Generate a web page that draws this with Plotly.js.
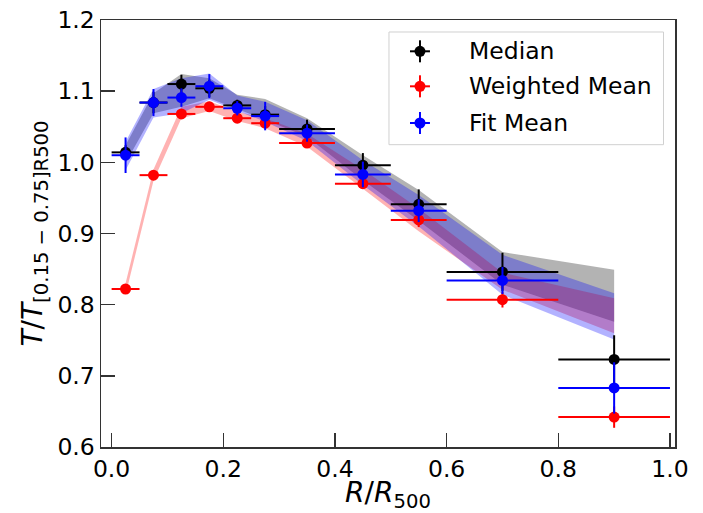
<!DOCTYPE html>
<html>
<head>
<meta charset="utf-8">
<script src="https://cdn.plot.ly/plotly-3.0.1.min.js"></script>
<style>html,body{margin:0;padding:0;background:#fff;}</style>
</head>
<body>
<div id="chart" style="width:703px;height:513px;"></div>
<script>
// Bin centres and half-widths (R/R500)
const xBins = [0.025, 0.075, 0.125, 0.175, 0.225, 0.275, 0.35, 0.45, 0.55, 0.7, 0.9];
const xHalf = [0.025, 0.025, 0.025, 0.025, 0.025, 0.025, 0.05, 0.05, 0.05, 0.1, 0.1];

// Median
const medianY   = [1.014, 1.084, 1.110, 1.104, 1.080, 1.067, 1.047, 0.996, 0.941, 0.846, 0.723];
const medianErr = [0.010, 0.015, 0.013, 0.012, 0.008, 0.012, 0.013, 0.017, 0.021, 0.027, 0.034];
// Weighted mean
const wmeanY    = [0.822, 0.982, 1.068, 1.078, 1.062, 1.055, 1.027, 0.970, 0.919, 0.807, 0.642];
const wmeanErr  = [0.004, 0.005, 0.005, 0.005, 0.005, 0.006, 0.006, 0.007, 0.010, 0.011, 0.015];
// Fit mean
const fitY      = [1.010, 1.084, 1.091, 1.107, 1.076, 1.065, 1.041, 0.983, 0.932, 0.834, 0.683];
const fitErr    = [0.025, 0.019, 0.013, 0.017, 0.010, 0.020, 0.012, 0.018, 0.016, 0.019, 0.036];

// Shaded bands (lower / upper)
const medianLo = [0.999, 1.069, 1.078, 1.090, 1.075, 1.060, 1.036, 0.975, 0.918, 0.828, 0.776];
const medianHi = [1.024, 1.097, 1.124, 1.118, 1.095, 1.089, 1.062, 1.010, 0.961, 0.874, 0.849];
const wmeanLo  = [0.814, 0.974, 1.062, 1.072, 1.058, 1.048, 1.022, 0.963, 0.903, 0.821, 0.760];
const wmeanHi  = [0.830, 0.990, 1.078, 1.086, 1.071, 1.062, 1.040, 0.990, 0.935, 0.845, 0.809];
const fitLo    = [0.989, 1.063, 1.069, 1.088, 1.072, 1.057, 1.030, 0.968, 0.910, 0.814, 0.751];
const fitHi    = [1.029, 1.103, 1.118, 1.125, 1.094, 1.085, 1.059, 1.003, 0.954, 0.870, 0.816];

const xTicks = [0.0, 0.2, 0.4, 0.6, 0.8, 1.0];
const yTicks = [0.6, 0.7, 0.8, 0.9, 1.0, 1.1, 1.2];

const names  = ['Median', 'Weighted Mean', 'Fit Mean'];
const colors = ['#000000', '#ff0000', '#0000ff'];

function band(lo, hi, fill) {
  return {
    x: xBins.concat(xBins.slice().reverse()),
    y: hi.concat(lo.slice().reverse()),
    type: 'scatter', mode: 'lines', fill: 'toself',
    fillcolor: fill, line: {width: 0}, hoverinfo: 'skip', showlegend: false
  };
}
function pts(y, err, color, name) {
  return {
    x: xBins, y: y, name: name, type: 'scatter', mode: 'markers',
    marker: {color: color, size: 11, line: {width: 0}},
    error_x: {type: 'data', array: xHalf, visible: true, color: color, thickness: 2, width: 0},
    error_y: {type: 'data', array: err, visible: true, color: color, thickness: 2, width: 0},
    showlegend: false
  };
}

const data = [
  band(medianLo, medianHi, 'rgba(128,128,128,0.6)'),
  band(wmeanLo, wmeanHi, 'rgba(255,0,0,0.3)'),
  band(fitLo, fitHi, 'rgba(0,0,255,0.3)'),
  pts(medianY, medianErr, colors[0], names[0]),
  pts(wmeanY, wmeanErr, colors[1], names[1]),
  pts(fitY, fitErr, colors[2], names[2])
];

// custom legend (paper coordinates)
const shapes = [{
  type: 'rect', xref: 'paper', yref: 'paper',
  x0: 0.5017, x1: 0.980, y0: 0.708, y1: 0.9719,
  line: {color: '#d0d0d0', width: 1}, fillcolor: 'rgba(255,255,255,0.8)', layer: 'above'
}];
const annotations = [];
const legY = [0.9267, 0.8447, 0.7588];
const legX = 0.5557, hx = 0.0174, hy = 0.0258, rx = 0.0096, ry = 0.0129;
names.forEach((n, i) => {
  shapes.push({type: 'line', xref: 'paper', yref: 'paper', x0: legX - hx, x1: legX + hx, y0: legY[i], y1: legY[i], line: {color: colors[i], width: 2}, layer: 'above'});
  shapes.push({type: 'line', xref: 'paper', yref: 'paper', x0: legX, x1: legX, y0: legY[i] - hy, y1: legY[i] + hy, line: {color: colors[i], width: 2}, layer: 'above'});
  shapes.push({type: 'circle', xref: 'paper', yref: 'paper', x0: legX - rx, x1: legX + rx, y0: legY[i] - ry, y1: legY[i] + ry, fillcolor: colors[i], line: {width: 0}, layer: 'above'});
  annotations.push({xref: 'paper', yref: 'paper', x: 0.6376, y: legY[i], xanchor: 'left', yanchor: 'middle', text: n, showarrow: false, font: {family: 'DejaVu Sans', size: 23.5, color: '#000'}});
});

const axisCommon = {
  showgrid: false, zeroline: false, showline: true, mirror: true,
  linecolor: '#333', linewidth: 1.5, ticks: 'inside', ticklen: 14, tickwidth: 1.5, tickcolor: '#333',
  tickfont: {family: 'DejaVu Sans', size: 23.5, color: '#000'}
};

const layout = {
  width: 703, height: 513,
  margin: {l: 101, r: 28, t: 20, b: 66, pad: 0},
  paper_bgcolor: '#fff', plot_bgcolor: '#fff',
  font: {family: 'DejaVu Sans', color: '#000'},
  showlegend: false,
  xaxis: Object.assign({}, axisCommon, {
    range: [-0.019, 1.009], tickvals: xTicks, tickformat: '.1f',
    title: {text: '<i>R</i>/<i>R</i><sub>500</sub>', font: {family: 'DejaVu Sans', size: 28}, standoff: 0}
  }),
  yaxis: Object.assign({}, axisCommon, {
    range: [0.6, 1.2], tickvals: yTicks, tickformat: '.1f',
    title: {text: '<i>T</i>/<i>T</i><sub>[0.15 − 0.75]R500</sub>', font: {family: 'DejaVu Sans', size: 28}, standoff: 6}
  }),
  shapes: shapes,
  annotations: annotations
};

Plotly.newPlot('chart', data, layout, {displayModeBar: false, staticPlot: true});
</script>
</body>
</html>
